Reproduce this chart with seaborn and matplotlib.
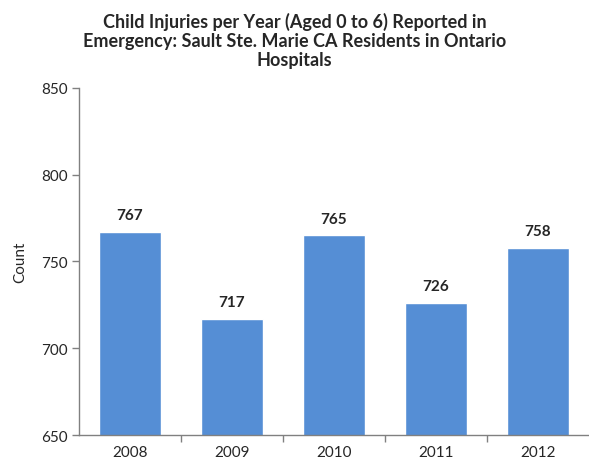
import matplotlib
matplotlib.use("Agg")
import matplotlib.pyplot as plt
import seaborn as sns
import pandas as pd
import numpy as np

years = ["2008", "2009", "2010", "2011", "2012"]
counts = [767, 717, 765, 726, 758]
y_ticks = [650, 700, 750, 800, 850]

sns.set_style("white")
plt.rcParams["font.family"] = ["Lato", "DejaVu Sans"]

df = pd.DataFrame({"Year": years, "Count": counts})

fig = plt.figure(figsize=(5.89, 4.64), dpi=100)
ax = fig.add_axes([0.134, 0.0603, 0.866, 0.748])

sns.barplot(data=df, x="Year", y="Count", color="#558ED5", saturation=1,
            width=0.6, ax=ax)

ax.set_ylim(650, 850)
ax.set_xlim(-0.5, len(years) - 0.5)
ax.set_yticks(y_ticks)
ax.tick_params(axis="y", direction="out", length=5, width=1, color="#808080",
               labelsize=11, pad=3, left=True)
ax.tick_params(axis="x", which="major", length=0, labelsize=11, pad=7)
ax.set_xticks(np.arange(len(years) - 1) + 0.5, minor=True)
ax.tick_params(axis="x", which="minor", direction="out", length=5, width=1,
               color="#808080", bottom=True)

for s in ["top", "right"]:
    ax.spines[s].set_visible(False)
for s in ["left", "bottom"]:
    ax.spines[s].set_color("#808080")
    ax.spines[s].set_linewidth(1)

ax.set_xlabel("")
ax.set_ylabel("Count", fontsize=11, labelpad=10)

for i, v in enumerate(counts):
    ax.annotate(str(v), (i, v), xytext=(0, 7), textcoords="offset points",
                ha="center", va="bottom", fontsize=11, fontweight="bold")

fig.text(0.5, 0.972, "Child Injuries per Year (Aged 0 to 6) Reported in\n"
         "Emergency: Sault Ste. Marie CA Residents in Ontario\nHospitals",
         ha="center", va="top", fontsize=13, fontweight="bold",
         linespacing=1.13)

fig.savefig("out.png", dpi=100)
